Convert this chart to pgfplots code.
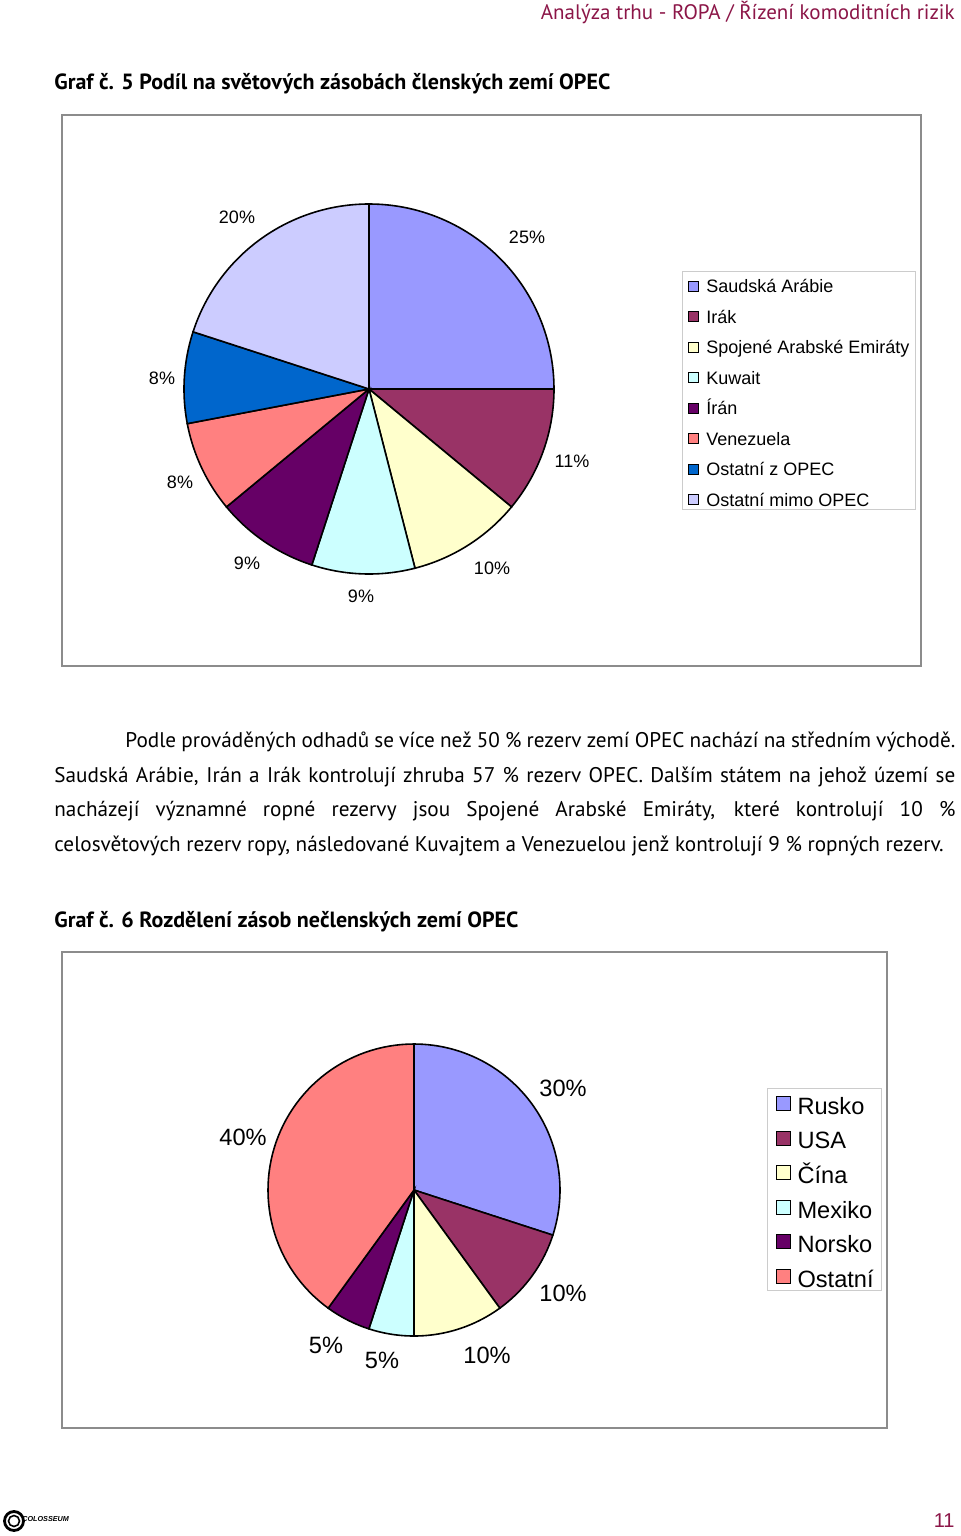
\documentclass[border=0pt]{standalone}
\usepackage{pgfplots}
\pgfplotsset{compat=1.18}
\usepackage{fontspec}
\setmainfont{PT Sans}
\newfontfamily\chartfont{Liberation Sans}
\definecolor{hdr}{RGB}{140,22,72}
\definecolor{c1}{RGB}{153,153,255}
\definecolor{c2}{RGB}{153,51,102}
\definecolor{c3}{RGB}{255,255,204}
\definecolor{c4}{RGB}{204,255,255}
\definecolor{c5}{RGB}{102,0,102}
\definecolor{c6}{RGB}{255,128,128}
\definecolor{c7}{RGB}{0,102,204}
\definecolor{c8}{RGB}{204,204,255}
\newcommand\leA[1]{\raisebox{0pt}[10.65pt][4.25pt]{#1}}
\newcommand\leB[1]{\raisebox{0pt}[12.8pt][4.4pt]{#1}}
\newcommand\bodyfont{\fontsize{10.6}{12}\selectfont}
\begin{document}
\begin{tikzpicture}[x=0.5pt,y=-0.5pt]
\useasboundingbox (0,0) rectangle (960,1536);
\fill[white] (0,0) rectangle (960,1536);
% header
\node[anchor=base east, text=hdr, font=\fontsize{10.5}{12}\selectfont, inner sep=0] at (955,20) {Analýza trhu - ROPA / Řízení komoditních rizik};
\node[anchor=base west, font=\bfseries\fontsize{11}{13}\selectfont, inner sep=0] at (54,90) {Graf č. 5 Podíl na světových zásobách členských zemí OPEC};
\draw[black!45, line width=0.6pt] (62,115) rectangle (921,666);
% chart 1
\begin{axis}[at={(184.5pt,-194.5pt)}, anchor=origin, x=92.5pt, y=92.5pt,
  xmin=-1, xmax=1, ymin=-1, ymax=1, hide axis, clip=false,
  legend image code/.code={\draw[#1, draw=black, line width=0.4pt] (0pt,-3.8pt) rectangle (5pt,1.2pt);},
  legend style={at={(1.3459,0.8189)}, anchor=north west, draw=black!20, line width=0.5pt,
    font=\chartfont\fontsize{9}{10}\selectfont, inner xsep=3pt, inner ysep=0pt, row sep=3.1pt,
    nodes={inner sep=0pt}, /tikz/every odd column/.append style={column sep=3.5pt}},
  legend cell align=left]
\def\cum{0}
\pgfplotsforeachungrouped \v/\c in {25/c1, 11/c2, 10/c3, 9/c4, 9/c5, 8/c6, 8/c7, 20/c8}{%
  \pgfmathsetmacro\aS{90-3.6*\cum}%
  \pgfmathsetmacro\aE{90-3.6*(\cum+\v)}%
  \edef\tmp{\noexpand\addplot[fill=\c, draw=black, line width=0.8pt, domain=\aE:\aS, samples=60, data cs=polar] ({x},{1}) -- (axis cs:0,0) -- cycle;}%
  \tmp
  \pgfmathsetmacro\cum{\cum+\v}%
}
\legend{\leA{Saudská Arábie}, \leA{Irák}, \leA{Spojené Arabské Emiráty}, \leA{Kuwait}, \leA{Írán}, \leA{Venezuela}, \leA{Ostatní z OPEC}, \leA{Ostatní mimo OPEC}}
\end{axis}
\begin{scope}[every node/.style={font=\chartfont\fontsize{9}{10}\selectfont}]
\node at (237,217) {20\%};
\node at (527,237) {25\%};
\node at (162,378) {8\%};
\node at (572,461) {11\%};
\node at (180,482) {8\%};
\node at (247,563) {9\%};
\node at (492,568) {10\%};
\node at (361,596) {9\%};
\end{scope}
% paragraph
\node[anchor=base west, inner sep=0, font=\bodyfont] at (125,747) {\makebox[415pt][s]{Podle prováděných odhadů se více než 50 \% rezerv zemí OPEC nachází na středním východě.}};
\node[anchor=base west, inner sep=0, font=\bodyfont] at (54,782) {\makebox[450.5pt][s]{Saudská Arábie, Irán a Irák kontrolují zhruba 57 \% rezerv OPEC. Dalším státem na jehož území se}};
\node[anchor=base west, inner sep=0, font=\bodyfont] at (54,816) {\makebox[450.5pt][s]{nacházejí významné ropné rezervy jsou Spojené Arabské Emiráty, které kontrolují 10 \%}};
\node[anchor=base west, inner sep=0, font=\bodyfont] at (54,851) {celosvětových rezerv ropy, následované Kuvajtem a Venezuelou jenž kontrolují 9 \% ropných rezerv.};
\node[anchor=base west, font=\bfseries\fontsize{11}{13}\selectfont, inner sep=0] at (54,927) {Graf č. 6 Rozdělení zásob nečlenských zemí OPEC};
\draw[black!45, line width=0.6pt] (62,952) rectangle (887,1428);
% chart 2
\begin{axis}[at={(207pt,-595pt)}, anchor=origin, x=73pt, y=73pt,
  xmin=-1, xmax=1, ymin=-1, ymax=1, hide axis, clip=false,
  legend image code/.code={\draw[#1, draw=black, line width=0.5pt] (0pt,-3.8pt) rectangle (7pt,3.2pt);},
  legend style={at={(1.709,0.849)}, anchor=north west, draw=black!20, line width=0.5pt,
    font=\chartfont\fontsize{11.8}{13}\selectfont, inner xsep=4pt, inner ysep=0pt, row sep=3pt,
    nodes={inner sep=0pt}, /tikz/every odd column/.append style={column sep=3.5pt}},
  legend cell align=left]
\def\cum{0}
\pgfplotsforeachungrouped \v/\c in {30/c1, 10/c2, 10/c3, 5/c4, 5/c5, 40/c6}{%
  \pgfmathsetmacro\aS{90-3.6*\cum}%
  \pgfmathsetmacro\aE{90-3.6*(\cum+\v)}%
  \edef\tmp{\noexpand\addplot[fill=\c, draw=black, line width=0.8pt, domain=\aE:\aS, samples=60, data cs=polar] ({x},{1}) -- (axis cs:0,0) -- cycle;}%
  \tmp
  \pgfmathsetmacro\cum{\cum+\v}%
}
\legend{\leB{Rusko}, \leB{USA}, \leB{Čína}, \leB{Mexiko}, \leB{Norsko}, \leB{Ostatní}}
\end{axis}
\begin{scope}[every node/.style={font=\chartfont\fontsize{11.8}{13}\selectfont}]
\node at (563,1088) {30\%};
\node at (243,1137) {40\%};
\node at (563,1293) {10\%};
\node at (326,1345) {5\%};
\node at (382,1360) {5\%};
\node at (487,1355) {10\%};
\end{scope}
% footer
\draw[line width=1.4pt] (14,1521) circle (9.5);
\draw[line width=0.8pt] (14,1521) circle (5.5);
\node[anchor=west, inner sep=0, font=\chartfont\bfseries\itshape\fontsize{3.6}{4}\selectfont] at (22,1519) {COLOSSEUM};
\node[anchor=base east, inner sep=0, text=hdr, font=\chartfont\fontsize{10}{12}\selectfont] at (955,1527) {11};
\end{tikzpicture}
\end{document}
